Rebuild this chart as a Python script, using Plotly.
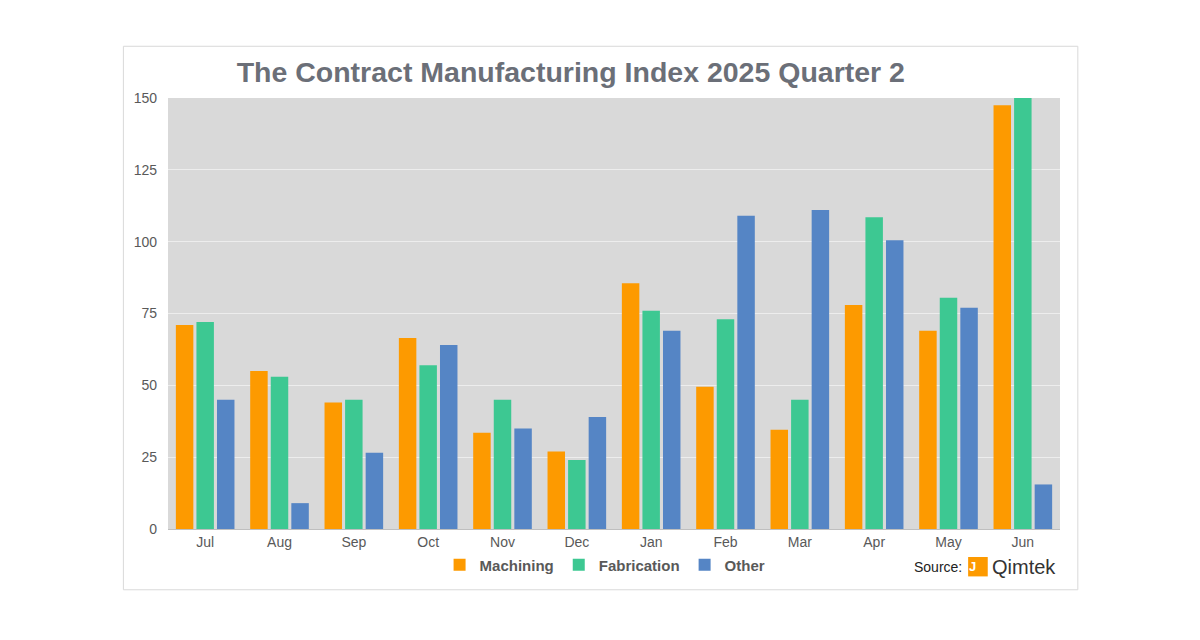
import plotly.graph_objects as go

months = ['Jul', 'Aug', 'Sep', 'Oct', 'Nov', 'Dec', 'Jan', 'Feb', 'Mar', 'Apr', 'May', 'Jun']
machining = [71, 55, 44, 66.5, 33.5, 27, 85.5, 49.5, 34.5, 78, 69, 147.5]
fabrication = [72, 53, 45, 57, 45, 24, 76, 73, 45, 108.5, 80.5, 150]
other = [45, 9, 26.5, 64, 35, 39, 69, 109, 111, 100.5, 77, 15.5]
y_ticks = [0, 25, 50, 75, 100, 125, 150]

fig = go.Figure()
for name, vals, color in [('Machining', machining, '#FD9A00'),
                          ('Fabrication', fabrication, '#3DC892'),
                          ('Other', other, '#5585C5')]:
    fig.add_trace(go.Bar(x=months, y=vals, name=f'<b>{name}</b>',
                         marker=dict(color=color, line=dict(width=0))))

fig.update_layout(
    width=1200, height=640,
    paper_bgcolor='white', plot_bgcolor='#D9D9D9',
    font=dict(family='Liberation Sans, Arial', color='#595959', size=14),
    margin=dict(l=160, r=148, t=90, b=119),
    barmode='group', bargap=0.17, bargroupgap=0.15,
    title=dict(text='<b>The Contract Manufacturing Index 2025 Quarter 2</b>',
               x=0.469, xanchor='center', y=0.9, yanchor='middle',
               font=dict(size=28.5, color='#6B6F78')),
    legend=dict(orientation='h', x=0.49, xanchor='center', y=-0.045, yanchor='top',
                font=dict(size=15, color='#595959'), itemwidth=30,
                bgcolor='rgba(0,0,0,0)', traceorder='normal'),
)
fig.update_xaxes(showgrid=False, ticks='', showline=True, linecolor='#BFBFBF',
                 tickfont=dict(size=14, color='#595959'))
fig.update_yaxes(range=[0, 150], tickvals=y_ticks, showgrid=True, gridcolor='#EDEDED',
                 zeroline=False, tickfont=dict(size=14, color='#595959'), ticklabelstandoff=10)

# card border
fig.add_shape(type='rect', xref='paper', yref='paper', x0=-0.05, x1=1.02, y0=-0.141, y1=1.12,
              line=dict(color='#D9D9D9', width=1), fillcolor='rgba(0,0,0,0)', layer='below')
# source + logo
fig.add_annotation(xref='paper', yref='paper', x=0.892, y=-0.088, text='Source:', showarrow=False,
                   xanchor='right', yanchor='middle', font=dict(size=14, color='#222'))
fig.add_shape(type='rect', xref='paper', yref='paper', x0=0.897, x1=0.919, y0=-0.11, y1=-0.065,
              fillcolor='#FD9A00', line=dict(width=0))
fig.add_annotation(xref='paper', yref='paper', x=0.908, y=-0.0875, text='<b>J</b>', showarrow=False,
                   yanchor='middle', font=dict(size=13, color='white'))
fig.add_annotation(xref='paper', yref='paper', x=0.922, y=-0.0875, text='Qimtek', showarrow=False,
                   xanchor='left', yanchor='middle', font=dict(size=20, color='#333'))

fig.write_html('out.html')
